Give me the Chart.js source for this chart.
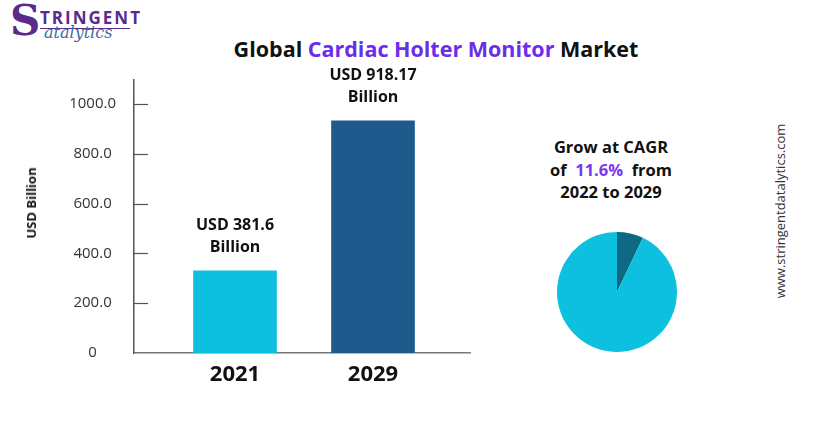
<!DOCTYPE html>
<html>
<head>
<meta charset="utf-8">
<script src="https://cdn.jsdelivr.net/npm/chart.js@4.4.0/dist/chart.umd.min.js"></script>
<style>
    body { margin: 0; background: #fff; font-family: 'Open Sans', sans-serif; }
    #page { position: relative; width: 816px; height: 426px; overflow: hidden; background: #fff; }
    .abs { position: absolute; }
    #title { left: 0; width: 872px; top: 34px; text-align: center; font-weight: 700; font-size: 21.5px; color: #111; white-space: nowrap; }
    #title span { color: #6b2ee8; }
    #ytitle { left: 31px; top: 203px; transform: translate(-50%, -50%) rotate(-90deg); font-weight: 700; font-size: 13px; color: #111; white-space: nowrap; }
    #cagr { left: 531px; width: 160px; top: 136px; text-align: center; font-weight: 700; font-size: 16.5px; line-height: 22.5px; color: #111; }
    #cagr span { color: #7c35f0; }
    #site { left: 780px; top: 211px; transform: translate(-50%, -50%) rotate(-90deg); font-size: 13px; color: #333; white-space: nowrap; }
    #logo1 { left: 10px; top: -4px; font-family: 'DejaVu Serif', serif; font-size: 42px; color: #5a2b8c; font-weight: 700; }
    #logo2 { left: 40px; top: 6px; font-size: 17px; font-weight: 700; letter-spacing: 2px; color: #5a2b8c; }
    #logo3 { left: 40px; top: 28px; width: 90px; border-top: 1.5px solid #5a2b8c; }
    #logo4 { left: 44px; top: 23px; font-family: 'DejaVu Serif', serif; font-style: italic; font-size: 16px; color: #3d6f9a; }
</style>
</head>
<body>
<div id="page">
    <div class="abs" id="logo1">S</div>
    <div class="abs" id="logo2">TRINGENT</div>
    <div class="abs" id="logo3"></div>
    <div class="abs" id="logo4">atalytics</div>
    <div class="abs" id="title">Global <span>Cardiac Holter Monitor</span> Market</div>
    <div class="abs" style="left:0;top:0;width:500px;height:426px;"><canvas id="barChart"></canvas></div>
    <div class="abs" id="ytitle">USD Billion</div>
    <div class="abs" id="cagr">Grow at CAGR<br>of&nbsp; <span>11.6%</span> &nbsp;from<br>2022 to 2029</div>
    <div class="abs" style="left:557px;top:232px;width:120px;height:120px;"><canvas id="pieChart"></canvas></div>
    <div class="abs" id="site">www.stringentdatalytics.com</div>
</div>
<script>
// data
const YEARS = ['2021', '2029'];
const MARKET = [330, 932];
const BAR_LABELS = [['USD 381.6', 'Billion'], ['USD 918.17', 'Billion']];
const Y_TICKS = [0, 200, 400, 600, 800, 1000];
const PIE_SHARE = [7.1, 92.9];

const FONT = "'Open Sans', sans-serif";

// short tick marks drawn inside the plot, plus the text above each bar
const barExtras = {
    id: 'barExtras',
    afterDraw(chart) {
        const ctx = chart.ctx;
        const y = chart.scales.y;
        const left = chart.chartArea.left;
        ctx.save();
        ctx.strokeStyle = '#555';
        ctx.lineWidth = 1.2;
        Y_TICKS.forEach(function(v) {
            if (v === 0) return;
            const py = Math.round(y.getPixelForValue(v)) + 0.5;
            ctx.beginPath();
            ctx.moveTo(left, py);
            ctx.lineTo(left + 14, py);
            ctx.stroke();
        });

        ctx.fillStyle = '#111';
        ctx.font = 'bold 16px ' + FONT;
        ctx.textAlign = 'center';
        ctx.textBaseline = 'middle';
        chart.getDatasetMeta(0).data.forEach(function(bar, i) {
            ctx.fillText(BAR_LABELS[i][0], bar.x, bar.y - 45);
            ctx.fillText(BAR_LABELS[i][1], bar.x, bar.y - 23);
        });
        ctx.restore();
    }
};

new Chart(document.getElementById('barChart'), {
    type: 'bar',
    data: {
        datasets: [{
            data: MARKET.map(function(v, i) { return { x: i + 1, y: v }; }),
            backgroundColor: ['#0ec0e0', '#1f5a8c'],
            barThickness: 83
        }]
    },
    options: {
        responsive: true,
        maintainAspectRatio: false,
        animation: false,
        layout: { padding: { top: 80, right: 30, left: 0, bottom: 0 } },
        plugins: {
            legend: { display: false },
            tooltip: { enabled: false }
        },
        scales: {
            x: {
                type: 'linear',
                offset: false,
                min: 0.268,
                max: 2.703,
                afterBuildTicks: function(s) { s.ticks = YEARS.map(function(y, i) { return { value: i + 1 }; }); },
                afterFit: function(s) { s.height = 73; },
                ticks: {
                    padding: 1,
                    color: '#111',
                    font: { family: FONT, size: 22, weight: 'bold' },
                    callback: function(v) { return YEARS[v - 1]; }
                },
                grid: { display: false },
                border: { color: '#777', width: 1.5 }
            },
            y: {
                min: 0,
                max: 1096,
                afterBuildTicks: function(s) { s.ticks = Y_TICKS.map(function(v) { return { value: v }; }); },
                afterFit: function(s) { s.width = 134; },
                ticks: {
                    crossAlign: 'center',
                    padding: 10,
                    color: '#333',
                    font: { family: FONT, size: 15 },
                    callback: function(v) { return v === 0 ? '0' : v.toFixed(1); }
                },
                grid: { display: false },
                border: { color: '#555', width: 1.5 }
            }
        }
    },
    plugins: [barExtras]
});

new Chart(document.getElementById('pieChart'), {
    type: 'pie',
    data: {
        labels: ['Growth', 'Base'],
        datasets: [{
            data: PIE_SHARE,
            backgroundColor: ['#0e6a84', '#0ec0e0'],
            borderWidth: 0
        }]
    },
    options: {
        responsive: true,
        maintainAspectRatio: false,
        animation: false,
        plugins: {
            legend: { display: false },
            tooltip: { enabled: false }
        }
    }
});
</script>
</body>
</html>
